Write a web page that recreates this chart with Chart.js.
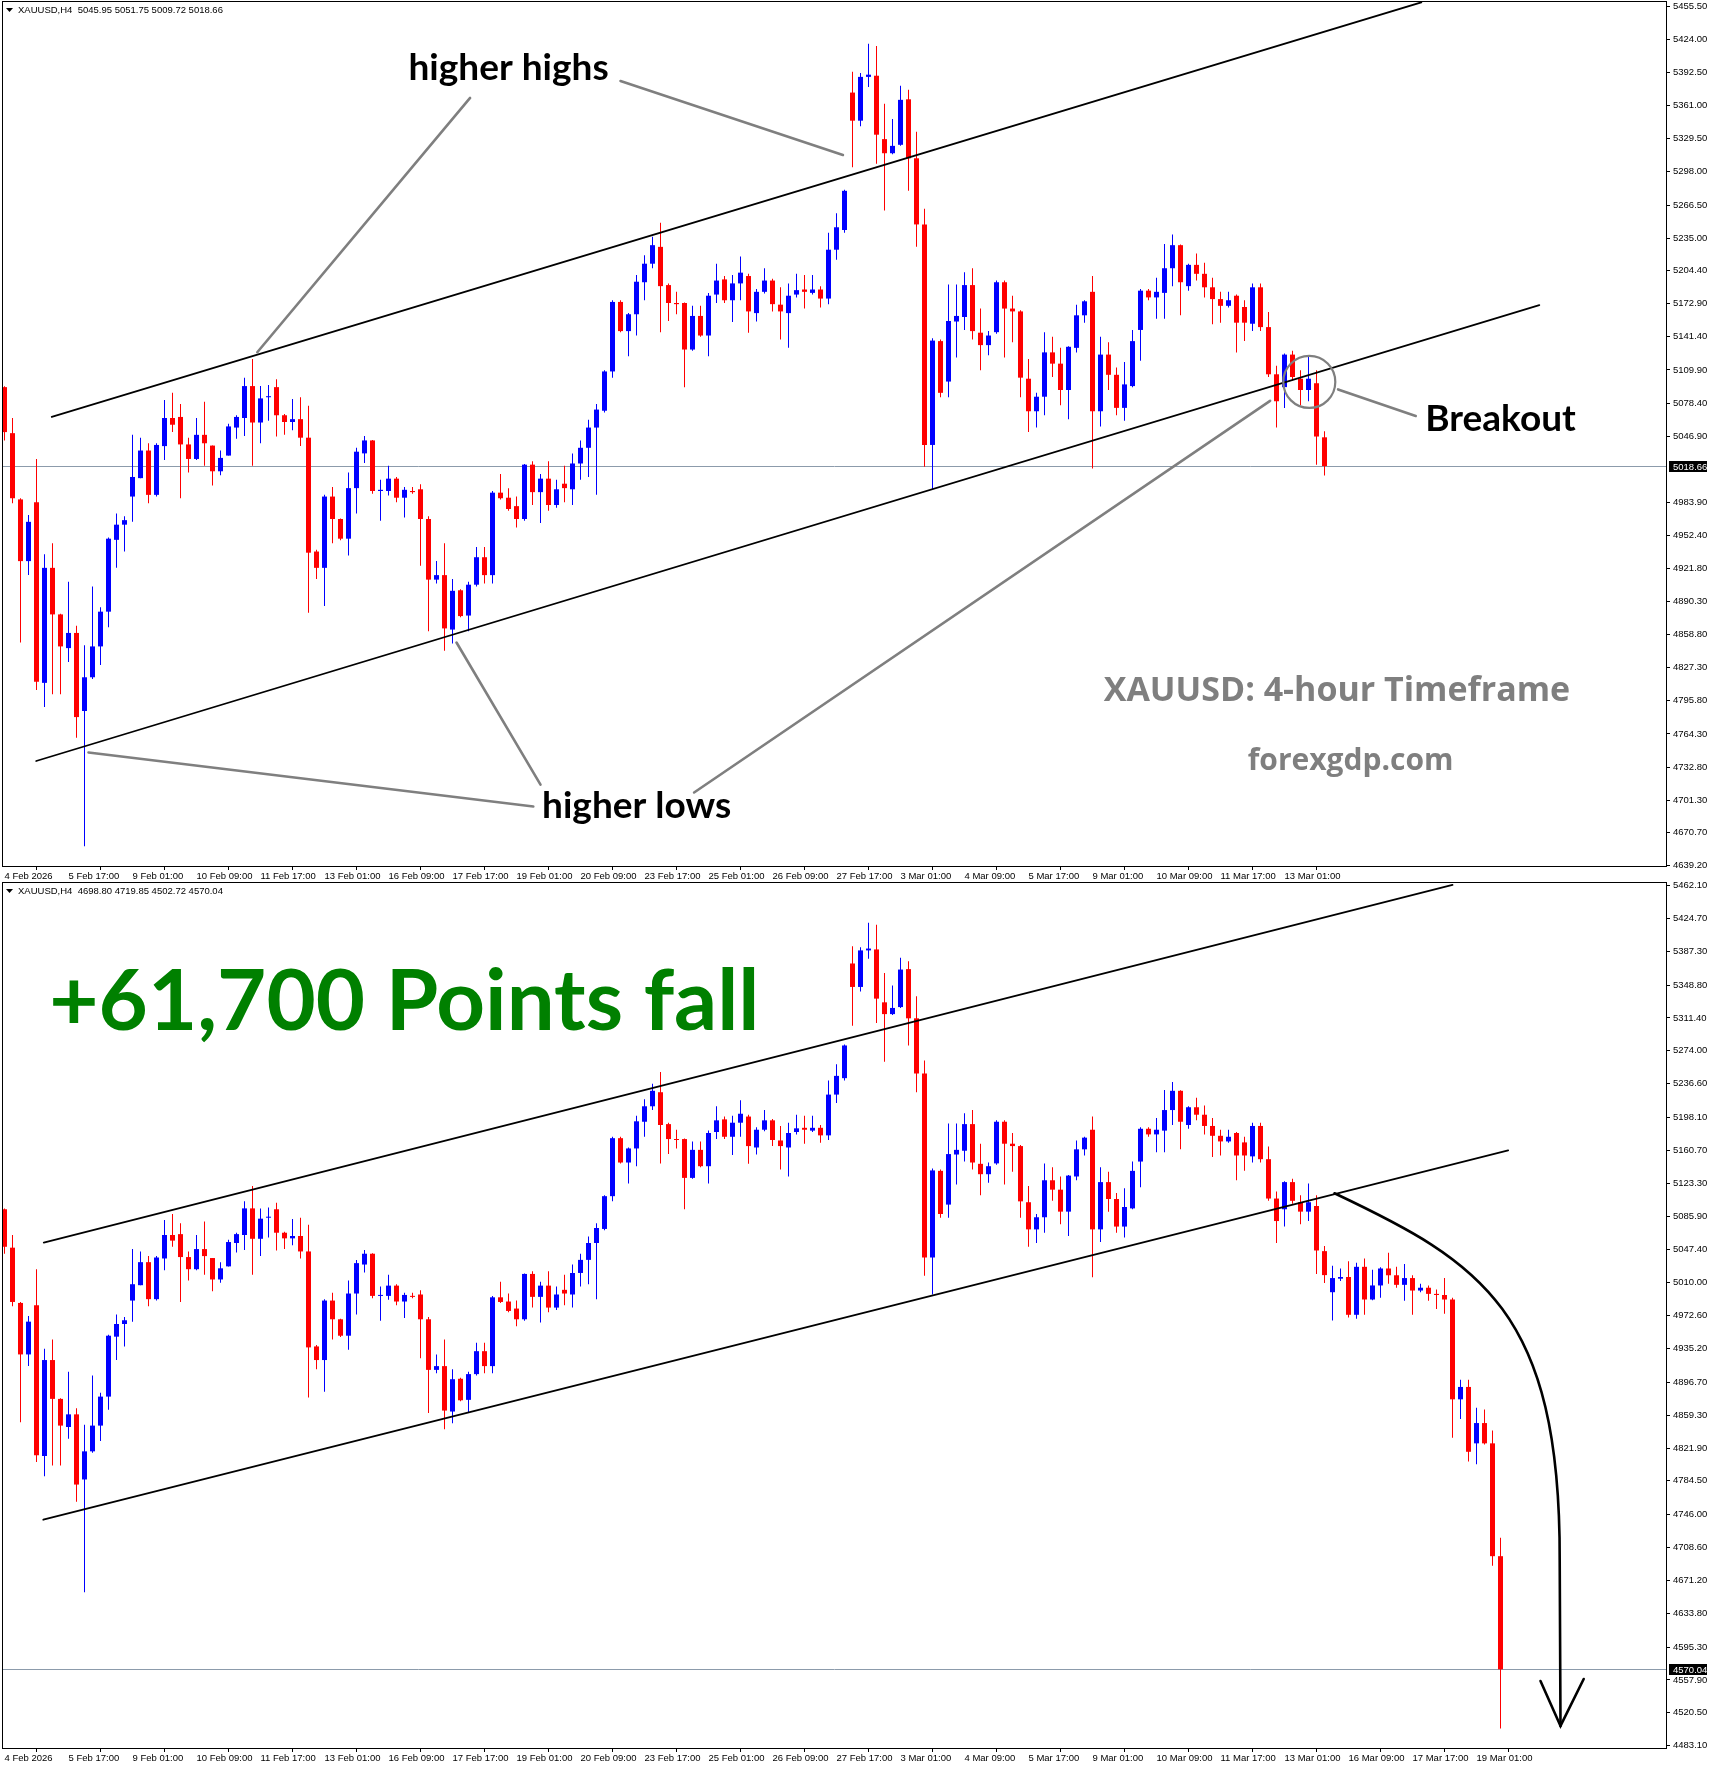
<!DOCTYPE html>
<html>
<head>
<meta charset="utf-8">
<title>XAUUSD H4</title>
<script src="https://cdn.jsdelivr.net/npm/chart.js@4.4.1/dist/chart.umd.min.js"></script>
<style>
  body { margin: 0; background: #fff; }
  .panel { position: absolute; left: 0; }
</style>
</head>
<body>
<canvas id="topChart" class="panel" width="1710" height="880" style="top:0px"></canvas>
<canvas id="bottomChart" class="panel" width="1710" height="885" style="top:880px"></canvas>
<script>
// XAUUSD H4 bars, bar 0 = 4 Feb 2026 09:00, one value per bar
const openPrices = [
  5093.6, 5049.9, 4987.0, 4928.4, 4984.3, 4812.8, 4922.0, 4877.8, 4845.8, 4860.2,
  4786.1, 4818.1, 4847.4, 4880.4, 4948.6, 4963.0, 4989.7, 5007.2, 5033.4, 4991.3,
  5037.6, 5064.3, 5065.3, 5039.2, 5025.4, 5048.3, 5038.1, 5013.7, 5028.6, 5055.2,
  5064.3, 5094.6, 5060.0, 5084.0, 5093.6, 5066.9, 5060.5, 5063.2, 5045.6, 4937.5,
  4922.0, 4989.7, 4968.4, 4949.7, 4997.7, 5030.7, 5043.0, 4995.0, 4995.0, 5006.7,
  4988.6, 4995.0, 4996.6, 4968.4, 4910.8, 4915.1, 4863.4, 4900.7, 4876.7, 4906.0,
  4932.1, 4915.1, 4993.4, 4988.6, 4980.6, 4968.4, 5020.0, 4993.9, 5006.7, 4981.7,
  5001.9, 4996.6, 5021.1, 5036.0, 5055.2, 5071.2, 5108.5, 5174.5, 5146.8, 5162.8,
  5193.2, 5210.8, 5226.8, 5190.5, 5173.5, 5173.5, 5129.3, 5161.2, 5142.6, 5181.5,
  5195.9, 5176.1, 5192.1, 5199.1, 5163.9, 5184.1, 5194.8, 5171.9, 5163.9, 5181.5,
  5186.3, 5183.1, 5186.3, 5177.7, 5224.1, 5242.8, 5373.3, 5346.6, 5388.2, 5389.3,
  5329.1, 5315.7, 5323.7, 5366.9, 5310.9, 5248.1, 5038.7, 5137.3, 5098.9, 5155.9,
  5160.2, 5190.5, 5145.3, 5133.5, 5145.8, 5193.2, 5168.2, 5165.5, 5101.6, 5070.7,
  5084.5, 5126.6, 5115.9, 5090.9, 5130.9, 5161.8, 5184.1, 5070.7, 5124.5, 5105.3,
  5073.9, 5094.6, 5147.9, 5185.2, 5178.8, 5183.1, 5206.5, 5228.4, 5189.5, 5209.7,
  5201.2, 5188.4, 5177.2, 5170.8, 5180.4, 5169.7, 5153.8, 5188.4, 5150.6, 5105.8,
  5093.6, 5124.5, 5101.6, 5090.9, 5097.3, 5045.95, 4999.2, 5014.6, 5016.5, 4973.5,
  5028.1, 4990.9, 5006.9, 5026.2, 5018.5, 5007.6, 5015.3, 5001.1, 5004.3, 4997.3,
  4996.0, 4990.9, 4877.3, 4891.4, 4827.2, 4850.3, 4827.2, 4698.80
];
const highPrices = [
  5094.5, 5064.3, 4988.1, 4972.1, 5025.4, 4934.8, 4945.4, 4878.5, 4908.7, 4867.1,
  4848.5, 4904.4, 4884.7, 4950.8, 4973.7, 4971.0, 5048.3, 5045.6, 5040.3, 5040.3,
  5081.3, 5088.3, 5077.6, 5045.6, 5064.3, 5079.7, 5038.1, 5033.4, 5058.9, 5066.9,
  5102.6, 5120.2, 5094.6, 5095.7, 5101.0, 5068.0, 5082.4, 5084.0, 5076.0, 4939.1,
  4991.3, 4998.7, 4968.9, 5012.6, 5036.0, 5047.2, 5043.5, 5005.6, 5019.0, 5008.3,
  4998.7, 4998.7, 5001.4, 4971.0, 4928.4, 4945.4, 4911.4, 4901.8, 4908.7, 4941.7,
  4941.7, 4995.0, 5011.0, 4997.7, 4989.7, 5020.5, 5023.2, 5011.0, 5023.2, 5005.6,
  5019.0, 5030.7, 5043.0, 5062.7, 5077.6, 5109.6, 5176.1, 5176.1, 5163.9, 5200.1,
  5218.8, 5236.4, 5249.7, 5192.1, 5184.1, 5174.0, 5170.8, 5170.8, 5183.1, 5210.8,
  5199.1, 5200.1, 5217.7, 5201.2, 5186.8, 5206.5, 5196.4, 5188.4, 5192.1, 5201.2,
  5200.1, 5200.1, 5189.5, 5240.1, 5258.7, 5281.1, 5393.0, 5391.9, 5419.6, 5417.5,
  5362.6, 5348.2, 5379.7, 5375.9, 5336.0, 5263.0, 5139.9, 5138.9, 5191.1, 5191.1,
  5202.8, 5206.5, 5168.2, 5146.8, 5194.8, 5194.8, 5180.4, 5166.6, 5120.2, 5088.2,
  5145.8, 5141.5, 5130.9, 5132.5, 5171.9, 5176.1, 5199.1, 5141.5, 5136.2, 5112.2,
  5117.5, 5147.9, 5186.8, 5186.8, 5197.5, 5229.4, 5238.5, 5229.0, 5210.8, 5220.4,
  5211.8, 5197.5, 5184.1, 5184.1, 5181.5, 5176.1, 5192.1, 5192.1, 5165.0, 5113.8,
  5125.5, 5128.2, 5109.6, 5122.9, 5109.6, 5051.75, 5029.4, 5026.2, 5034.5, 5032.6,
  5037.7, 5024.9, 5027.5, 5044.1, 5028.1, 5031.3, 5018.5, 5008.8, 5006.9, 5002.4,
  5015.3, 4992.8, 4899.7, 4899.7, 4867.6, 4865.7, 4841.9, 4719.85
];
const lowPrices = [
  5043.0, 4983.3, 4851.1, 4915.1, 4805.9, 4789.9, 4802.1, 4802.1, 4832.5, 4760.6,
  4657.7, 4816.5, 4829.8, 4865.5, 4922.0, 4937.5, 4965.7, 5007.2, 4983.3, 4989.7,
  5024.3, 5050.9, 4988.1, 5012.6, 5024.3, 5019.0, 5000.3, 5009.9, 5028.6, 5044.5,
  5047.2, 5019.0, 5040.3, 5061.6, 5046.7, 5048.3, 5052.6, 5037.6, 4879.4, 4911.4,
  4885.8, 4945.4, 4948.1, 4933.7, 4973.7, 5021.6, 4992.3, 4966.8, 4990.7, 4984.3,
  4969.9, 4992.3, 4924.1, 4861.8, 4907.1, 4843.2, 4850.1, 4875.1, 4861.8, 4904.4,
  4907.1, 4907.1, 4987.0, 4976.3, 4960.4, 4966.8, 4981.7, 4964.6, 4976.3, 4979.0,
  4984.3, 4981.7, 5005.6, 5008.3, 4991.3, 5069.6, 5102.6, 5145.8, 5122.9, 5142.6,
  5176.1, 5206.5, 5145.8, 5156.4, 5162.8, 5093.6, 5128.2, 5141.5, 5122.9, 5173.5,
  5173.5, 5155.4, 5176.1, 5145.3, 5155.9, 5182.5, 5165.5, 5138.9, 5130.9, 5178.8,
  5168.2, 5181.5, 5169.2, 5172.4, 5214.5, 5240.1, 5302.4, 5341.3, 5378.6, 5305.6,
  5261.4, 5314.7, 5322.7, 5280.0, 5226.8, 5017.9, 4996.6, 5084.0, 5084.0, 5121.8,
  5147.9, 5138.9, 5109.6, 5123.9, 5144.2, 5121.8, 5136.2, 5084.0, 5050.9, 5055.2,
  5066.9, 5103.2, 5076.5, 5063.2, 5126.6, 5154.8, 5016.3, 5056.3, 5090.9, 5066.9,
  5061.6, 5093.6, 5118.6, 5176.1, 5158.6, 5158.6, 5189.5, 5161.8, 5185.2, 5194.8,
  5178.8, 5153.2, 5154.8, 5169.2, 5126.6, 5137.3, 5146.8, 5146.8, 5103.2, 5055.2,
  5073.9, 5100.0, 5076.5, 5080.2, 5020.0, 5009.72, 4967.1, 5012.1, 4970.3, 4969.0,
  4973.5, 4990.0, 4992.8, 5008.8, 5004.3, 4989.6, 4973.5, 4999.2, 4989.6, 4980.0,
  4974.8, 4833.6, 4854.8, 4806.6, 4803.4, 4825.9, 4687.9, 4502.72
];
const closePrices = [
  5050.9, 4988.1, 4928.4, 4965.7, 4813.8, 4922.0, 4877.8, 4847.4, 4860.2, 4780.3,
  4818.1, 4847.4, 4880.4, 4949.7, 4963.0, 4967.3, 5008.3, 5033.4, 4991.3, 5038.7,
  5064.3, 5057.9, 5039.2, 5025.4, 5048.3, 5040.3, 5013.7, 5026.4, 5056.3, 5065.3,
  5094.6, 5060.0, 5082.9, 5085.0, 5066.9, 5060.5, 5063.2, 5045.6, 4936.4, 4922.0,
  4989.7, 4968.4, 4949.7, 4997.7, 5032.3, 5043.0, 4995.0, 4996.1, 5006.7, 4988.6,
  4996.1, 4993.9, 4968.4, 4910.8, 4915.1, 4864.5, 4900.2, 4876.2, 4906.0, 4932.1,
  4915.1, 4993.4, 4988.1, 4977.9, 4968.4, 5020.0, 4993.9, 5006.7, 4981.7, 4996.6,
  4997.7, 5021.1, 5036.0, 5055.2, 5072.3, 5108.5, 5174.5, 5146.8, 5162.8, 5193.7,
  5210.8, 5228.4, 5189.5, 5173.5, 5172.4, 5129.3, 5161.2, 5142.6, 5180.4, 5194.8,
  5176.1, 5192.1, 5202.3, 5165.5, 5184.1, 5194.8, 5172.4, 5165.5, 5180.4, 5185.7,
  5184.1, 5186.3, 5177.7, 5224.1, 5245.4, 5280.0, 5346.6, 5388.2, 5390.3, 5333.3,
  5315.7, 5322.7, 5366.4, 5310.9, 5248.1, 5038.7, 5137.8, 5088.2, 5156.4, 5161.2,
  5190.5, 5146.8, 5133.5, 5142.6, 5193.2, 5168.2, 5165.5, 5102.6, 5070.7, 5084.5,
  5126.6, 5115.9, 5090.9, 5131.9, 5161.8, 5175.1, 5070.7, 5124.5, 5105.3, 5073.9,
  5096.2, 5137.3, 5185.2, 5178.8, 5184.1, 5206.5, 5228.4, 5193.2, 5209.7, 5201.2,
  5188.4, 5177.2, 5170.8, 5176.1, 5154.8, 5154.8, 5188.4, 5150.6, 5105.8, 5080.2,
  5124.5, 5103.2, 5090.9, 5101.6, 5046.7, 5018.66, 5015.3, 5016.5, 4973.5, 5028.1,
  4990.9, 5006.9, 5026.2, 5018.5, 5007.6, 5015.3, 5001.1, 5004.3, 4997.3, 4996.0,
  4990.9, 4877.3, 4891.4, 4817.6, 4850.3, 4827.2, 4698.8, 4570.04
];

const xTickBars = [0, 8, 16, 24, 32, 40, 48, 56, 64, 72, 80, 88, 96, 104, 112, 120, 128, 136, 144, 152, 160, 168, 176, 184];
const xTickLabels = ["4 Feb 2026", "5 Feb 17:00", "9 Feb 01:00", "10 Feb 09:00", "11 Feb 17:00", "13 Feb 01:00",
  "16 Feb 09:00", "17 Feb 17:00", "19 Feb 01:00", "20 Feb 09:00", "23 Feb 17:00", "25 Feb 01:00", "26 Feb 09:00",
  "27 Feb 17:00", "3 Mar 01:00", "4 Mar 09:00", "5 Mar 17:00", "9 Mar 01:00", "10 Mar 09:00", "11 Mar 17:00",
  "13 Mar 01:00", "16 Mar 09:00", "17 Mar 17:00", "19 Mar 01:00"];

const topPriceTicks = [5455.50, 5424.00, 5392.50, 5361.00, 5329.50, 5298.00, 5266.50, 5235.00, 5204.40, 5172.90,
  5141.40, 5109.90, 5078.40, 5046.90, 4983.90, 4952.40, 4921.80, 4890.30, 4858.80, 4827.30, 4795.80,
  4764.30, 4732.80, 4701.30, 4670.70, 4639.20];
const bottomPriceTicks = [5462.10, 5424.70, 5387.30, 5348.80, 5311.40, 5274.00, 5236.60, 5198.10, 5160.70, 5123.30,
  5085.90, 5047.40, 5010.00, 4972.60, 4935.20, 4896.70, 4859.30, 4821.90, 4784.50, 4746.00, 4708.60,
  4671.20, 4633.80, 4595.30, 4557.90, 4520.50, 4483.10];

const BULL = '#0000ff', BEAR = '#ff0000';
const axisFont = { family: "'Liberation Sans', Arial, sans-serif", size: 9.5 };
const GRAY = '#7f7f7f';

// annotations, anchored at [bar, price]
const topNotes = {
  trend: [[[5.91, 5065.3], [177.1, 5459.0]], [[3.96, 4738.6], [191.85, 5171.5]]],
  pointers: [
    [[58.2, 5368.2], [31.6, 5126.7]],
    [[77.0, 5384.3], [104.8, 5314.0]],
    [[67.0, 4716.2], [56.5, 4851.1]],
    [[66.1, 4695.4], [10.5, 4746.7]],
    [[86.2, 4708.7], [158.2, 5080.6]],
    [[176.4, 5066.2], [166.7, 5091.4]]
  ],
  circle: { at: [163.1, 5098.5], r: 26 },
  texts: [
    { text: 'higher highs', at: [50.5, 5385.2], font: 'bold 37px Lato', color: '#000' },
    { text: 'higher lows', at: [67.2, 4684.1], font: 'bold 37px Lato', color: '#000' },
    { text: 'Breakout', at: [177.6, 5051.8], font: 'bold 37px Lato', color: '#000' },
    { text: 'XAUUSD: 4-hour Timeframe', at: [137.4, 4795.2], font: "bold 34px 'Open Sans'", color: GRAY },
    { text: 'forexgdp.com', at: [155.4, 4730.1], font: "bold 30px 'Open Sans'", color: GRAY }
  ]
};
const bottomNotes = {
  trend: [[[4.91, 5055.7], [181.0, 5462.7]], [[4.85, 4740.3], [187.96, 5160.7]]],
  pointers: [],
  texts: [
    { text: '+61,700 Points fall', at: [5.6, 5297.2], font: 'bold 85px Lato', color: '#008000' }
  ],
  curve: {
    path: [[166.25, 5111.8], [184.5, 5033.3], [194.5, 4978.7], [194.4, 4694.4], [194.5, 4505.6]],
    head: [[192.0, 4556.7], [197.4, 4559.0]]
  }
};

function overlay(notes, n) {
  const last = n - 1;
  return {
    id: 'mt4overlay',
    beforeDatasetsDraw(chart) {
      const { ctx, chartArea: a } = chart;
      const y = Math.round(chart.scales.y.getPixelForValue(closePrices[last])) + 0.5;
      ctx.save();
      ctx.strokeStyle = '#8c9bab';
      ctx.lineWidth = 1;
      ctx.beginPath(); ctx.moveTo(a.left, y); ctx.lineTo(a.right, y); ctx.stroke();
      ctx.restore();
    },
    afterDraw(chart) {
      const { ctx, chartArea: a } = chart;
      const pt = p => [chart.scales.x.getPixelForValue(p[0]), chart.scales.y.getPixelForValue(p[1])];
      const seg = (p, q) => { ctx.beginPath(); ctx.moveTo(...pt(p)); ctx.lineTo(...pt(q)); ctx.stroke(); };
      ctx.save();
      ctx.strokeStyle = '#000';
      ctx.lineWidth = 1;
      ctx.strokeRect(a.left - 0.5, a.top - 0.5, a.right - a.left + 1, a.bottom - a.top + 1);

      ctx.save();
      ctx.beginPath(); ctx.rect(a.left, a.top, a.right - a.left, a.bottom - a.top); ctx.clip();
      ctx.lineCap = 'round';
      ctx.strokeStyle = '#000'; ctx.lineWidth = 1.8;
      notes.trend.forEach(l => seg(l[0], l[1]));
      ctx.strokeStyle = GRAY; ctx.lineWidth = 2.6;
      notes.pointers.forEach(l => seg(l[0], l[1]));
      if (notes.circle) {
        const c = pt(notes.circle.at);
        ctx.lineWidth = 2.2;
        ctx.beginPath(); ctx.arc(c[0], c[1], notes.circle.r, 0, Math.PI * 2); ctx.stroke();
      }
      if (notes.curve) {
        const p = notes.curve.path.map(pt);
        ctx.strokeStyle = '#000'; ctx.lineWidth = 2.6;
        ctx.beginPath(); ctx.moveTo(...p[0]);
        ctx.bezierCurveTo(...p[1], ...p[2], ...p[3]);
        ctx.lineTo(...p[4]); ctx.stroke();
        const h = notes.curve.head.map(pt);
        ctx.beginPath(); ctx.moveTo(...h[0]); ctx.lineTo(...p[4]); ctx.lineTo(...h[1]); ctx.stroke();
      }
      ctx.textBaseline = 'alphabetic'; ctx.textAlign = 'left';
      notes.texts.forEach(t => {
        ctx.font = t.font; ctx.fillStyle = t.color;
        ctx.fillText(t.text, ...pt(t.at));
      });
      ctx.restore();

      // header
      const fnt = "9.5px 'Liberation Sans', Arial, sans-serif";
      ctx.fillStyle = '#000';
      ctx.beginPath();
      ctx.moveTo(a.left + 3, a.top + 6); ctx.lineTo(a.left + 10, a.top + 6); ctx.lineTo(a.left + 6.5, a.top + 10);
      ctx.closePath(); ctx.fill();
      ctx.font = fnt; ctx.textBaseline = 'middle';
      const ohlc = [openPrices[last], highPrices[last], lowPrices[last], closePrices[last]].map(v => v.toFixed(2)).join(' ');
      ctx.fillText('XAUUSD,H4  ' + ohlc, a.left + 15, a.top + 8);

      // current price tag
      const by = Math.round(chart.scales.y.getPixelForValue(closePrices[last]));
      ctx.fillRect(a.right + 3, by - 5, 38, 11);
      ctx.fillStyle = '#fff';
      ctx.fillText(closePrices[last].toFixed(2), a.right + 7, by + 1);
      ctx.restore();
    }
  };
}

function makeChart(canvasId, n, opts) {
  let bodies = [], wicks = [], colors = [];
  for (let i = 0; i < n; i++) {
    bodies.push({ x: i, y: [openPrices[i], closePrices[i]] });
    wicks.push({ x: i, y: [lowPrices[i], highPrices[i]] });
    colors.push(closePrices[i] >= openPrices[i] ? BULL : BEAR);
  }
  const bars = xTickBars.slice(0, opts.tickCount);
  return new Chart(document.getElementById(canvasId), {
    type: 'bar',
    data: {
      datasets: [
        { data: bodies, backgroundColor: colors, barThickness: 5, minBarLength: 1, grouped: false, inflateAmount: 0, borderWidth: 0 },
        { data: wicks, backgroundColor: colors, barThickness: 1, minBarLength: 1, grouped: false, inflateAmount: 0, borderWidth: 0 }
      ]
    },
    options: {
      responsive: false,
      animation: false,
      events: [],
      layout: { padding: { top: opts.padTop, left: 3, right: 0, bottom: 0 } },
      plugins: { legend: { display: false }, tooltip: { enabled: false } },
      scales: {
        x: {
          type: 'linear', bounds: 'data', offset: false,
          min: -0.1875, max: 207.6875,
          afterBuildTicks: s => { s.ticks = bars.map(v => ({ value: v })); },
          afterFit: s => { s.height = opts.xHeight; s.paddingLeft = 0; s.paddingRight = 0; },
          ticks: {
            autoSkip: false, maxRotation: 0, minRotation: 0, align: 'start', padding: 1,
            color: '#000', font: axisFont,
            callback: v => xTickLabels[xTickBars.indexOf(v)]
          },
          grid: { display: true, drawOnChartArea: false, drawTicks: true, tickLength: 4, color: '#000' },
          border: { display: true, color: '#000' }
        },
        y: {
          type: 'linear', position: 'right', bounds: 'data',
          min: opts.yMin, max: opts.yMax,
          afterBuildTicks: s => { s.ticks = opts.priceTicks.map(v => ({ value: v })); },
          afterFit: s => { s.width = 44; s.paddingTop = 0; s.paddingBottom = 0; },
          ticks: { autoSkip: false, padding: 3, color: '#000', font: axisFont, callback: v => v.toFixed(2) },
          grid: { display: true, drawOnChartArea: false, drawTicks: true, tickLength: 4, color: '#000' },
          border: { display: true, color: '#000' }
        }
      }
    },
    plugins: [overlay(opts.notes, n)]
  });
}

function draw() {
  makeChart('topChart', 166, { tickCount: 21, padTop: 2, xHeight: 14, yMin: 4638.9, yMax: 5459.3, priceTicks: topPriceTicks, notes: topNotes });
  makeChart('bottomChart', 188, { tickCount: 24, padTop: 3, xHeight: 17, yMin: 4480.5, yMax: 5464.9, priceTicks: bottomPriceTicks, notes: bottomNotes });
}

Promise.all([
  document.fonts.load('bold 37px Lato'),
  document.fonts.load("bold 34px 'Open Sans'"),
  document.fonts.load("9.5px 'Liberation Sans'")
]).then(draw, draw);
</script>
</body>
</html>
